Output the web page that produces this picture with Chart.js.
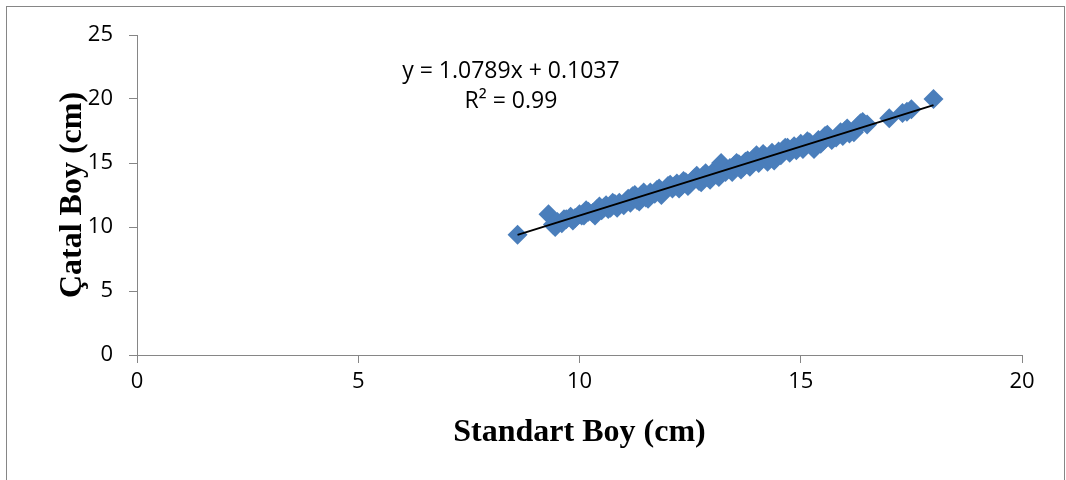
<!DOCTYPE html>
<html>
<head>
<meta charset="utf-8">
<script src="https://cdn.jsdelivr.net/npm/chart.js@4/dist/chart.umd.min.js"></script>
<style>
  html, body { margin: 0; padding: 0; background: #fff; }
  #wrap { width: 1066px; height: 480px; }
</style>
</head>
<body>
<div id="wrap"><canvas id="chart" width="1066" height="480"></canvas></div>
<script>
// Standart boy (x) ve çatal boy (y) ölçümleri, cm
const standartBoy = [
  8.6, 9.3, 9.4, 9.45, 9.5, 9.6, 9.65, 9.7, 9.8, 9.85, 9.9, 10.0, 10.05, 10.1, 10.15, 10.2,
  10.3, 10.35, 10.4, 10.45, 10.5, 10.55, 10.6, 10.65, 10.7, 10.75, 10.8, 10.85, 10.9, 11.0,
  11.05, 11.1, 11.15, 11.2, 11.25, 11.3, 11.35, 11.4, 11.45, 11.5, 11.55, 11.6, 11.7, 11.75,
  11.8, 11.85, 11.9, 12.0, 12.05, 12.1, 12.15, 12.2, 12.25, 12.3, 12.35, 12.4, 12.45, 12.5,
  12.6, 12.65, 12.7, 12.75, 12.8, 12.85, 12.9, 12.95, 13.0, 13.05, 13.1, 13.15, 13.2, 13.25,
  13.3, 13.4, 13.45, 13.5, 13.55, 13.6, 13.65, 13.7, 13.75, 13.8, 13.85, 13.9, 13.95, 14.0,
  14.05, 14.1, 14.15, 14.2, 14.25, 14.3, 14.35, 14.4, 14.5, 14.55, 14.6, 14.65, 14.7, 14.75,
  14.8, 14.85, 14.9, 15.0, 15.05, 15.1, 15.15, 15.2, 15.25, 15.3, 15.4, 15.45, 15.5, 15.55,
  15.6, 15.7, 15.8, 15.9, 15.95, 16.0, 16.05, 16.1, 16.2, 16.3, 16.35, 16.4, 16.5,
  17.0, 17.3, 17.4, 17.5, 18.0
];
const catalBoy = [
  9.4, 11.0, 10.2, 10.0, 10.4, 10.3, 10.6, 10.6, 10.8, 10.5, 10.7, 11.0, 10.9, 10.9, 11.3, 11.2,
  11.1, 10.9, 11.4, 11.6, 11.3, 11.5, 11.7, 11.4, 11.5, 11.9, 11.8, 11.5, 11.9, 11.7,
  12.0, 12.2, 11.9, 12.4, 12.5, 12.1, 12.0, 12.5, 12.7, 12.3, 12.2, 12.7, 12.6, 12.9,
  13.0, 12.5, 12.8, 13.2, 13.3, 13.0, 13.2, 13.4, 13.0, 13.2, 13.6, 13.5, 13.2, 13.4,
  13.8, 14.0, 13.6, 13.5, 14.0, 14.2, 13.9, 13.7, 14.2, 14.4, 14.1, 13.9, 15.0, 14.6,
  14.3, 14.6, 14.3, 14.8, 15.0, 14.9, 14.5, 14.7, 15.1, 15.2, 14.7, 15.0, 15.4, 15.6,
  15.0, 15.3, 15.7, 15.5, 15.1, 15.4, 15.8, 15.2, 15.9, 15.6, 16.0, 16.2, 16.2, 15.8,
  16.1, 16.3, 16.0, 16.5, 16.1, 16.4, 16.7, 16.6, 16.3, 16.1, 16.8, 16.5, 16.7, 17.1,
  17.2, 16.8, 17.0, 17.4, 17.1, 17.5, 17.7, 17.3, 17.4, 17.9, 18.1, 18.2, 18.0,
  18.5, 18.9, 19.0, 19.2, 20.0
];

// Doğrusal eğilim çizgisi katsayıları
const SLOPE = 1.0789;
const INTERCEPT = 0.1037;
const equationLines = ['y = 1.0789x + 0.1037', 'R² = 0.99'];

const xTicks = [0, 5, 10, 15, 20];
const yTicks = [0, 5, 10, 15, 20, 25];

const points = standartBoy.map((x, i) => ({ x: x, y: catalBoy[i] }));
const xMin = Math.min(...standartBoy);
const xMax = Math.max(...standartBoy);
const trend = [
  { x: xMin, y: SLOPE * xMin + INTERCEPT },
  { x: xMax, y: SLOPE * xMax + INTERCEPT }
];

const AXIS_GRAY = '#868686';
const tickFont = { family: '"Open Sans", sans-serif', size: 22 };
const titleFont = { family: '"Liberation Serif", "Times New Roman", serif', size: 32, weight: 'bold' };

// Arka plan ve dış çerçeve
const framePlugin = {
  id: 'frame',
  beforeDraw(chart) {
    const ctx = chart.ctx;
    ctx.save();
    ctx.fillStyle = '#fff';
    ctx.fillRect(0, 0, chart.width, chart.height);
    ctx.strokeStyle = AXIS_GRAY;
    ctx.lineWidth = 1;
    ctx.strokeRect(6.5, 6.5, chart.width - 8, chart.height + 10);
    ctx.restore();
  }
};

// Denklem etiketi
const equationPlugin = {
  id: 'equation',
  afterDatasetsDraw(chart) {
    const ctx = chart.ctx;
    const xs = chart.scales.x, ys = chart.scales.y;
    ctx.save();
    ctx.fillStyle = '#000';
    ctx.font = '23px "Open Sans", sans-serif';
    ctx.textAlign = 'center';
    ctx.textBaseline = 'middle';
    const cx = xs.getPixelForValue(8.45);
    ctx.fillText(equationLines[0], cx, ys.getPixelForValue(22.15));
    ctx.fillText(equationLines[1], cx, ys.getPixelForValue(19.8));
    ctx.restore();
  }
};

new Chart(document.getElementById('chart'), {
  type: 'scatter',
  data: {
    datasets: [
      {
        label: 'Çatal Boy',
        data: points,
        order: 2,
        pointStyle: 'rectRot',
        pointRadius: 10,
        pointHoverRadius: 10,
        backgroundColor: '#4A7EBB',
        borderColor: '#4A7EBB',
        borderWidth: 0
      },
      {
        label: 'Doğrusal',
        type: 'line',
        data: trend,
        order: 1,
        borderColor: '#000',
        borderWidth: 2,
        pointRadius: 0,
        fill: false
      }
    ]
  },
  options: {
    responsive: false,
    animation: false,
    layout: { padding: { left: 0, top: 35, right: 44, bottom: 0 } },
    plugins: {
      legend: { display: false },
      tooltip: { enabled: false }
    },
    scales: {
      x: {
        type: 'linear',
        min: 0,
        max: 20,
        afterBuildTicks: (scale) => { scale.ticks = xTicks.map(v => ({ value: v })); },
        afterFit: (scale) => { scale.height = 125; },
        ticks: { color: '#000', font: tickFont, padding: 6, maxRotation: 0 },
        grid: { drawOnChartArea: false, drawTicks: true, tickLength: 8, color: AXIS_GRAY },
        border: { color: AXIS_GRAY },
        title: {
          display: true,
          text: 'Standart Boy (cm)',
          color: '#000',
          font: titleFont,
          padding: { top: 0, bottom: 28 }
        }
      },
      y: {
        type: 'linear',
        min: 0,
        max: 25,
        afterBuildTicks: (scale) => { scale.ticks = yTicks.map(v => ({ value: v })); },
        afterFit: (scale) => { scale.width = 137; },
        ticks: { color: '#000', font: tickFont, padding: 16 },
        grid: { drawOnChartArea: false, drawTicks: true, tickLength: 8, color: AXIS_GRAY },
        border: { color: AXIS_GRAY },
        title: {
          display: true,
          text: 'Çatal Boy (cm)',
          color: '#000',
          font: titleFont,
          padding: { top: 54, bottom: 0 }
        }
      }
    }
  },
  plugins: [framePlugin, equationPlugin]
});
</script>
</body>
</html>
